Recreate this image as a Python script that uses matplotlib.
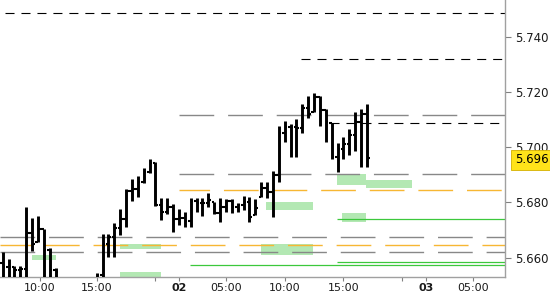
import matplotlib
matplotlib.use("Agg")
import matplotlib.pyplot as plt
import numpy as np

# 30-minute bars (index on x), prices
opens = [5.6580, 5.6567, 5.6567, 5.6555, 5.6559, 5.6690, 5.6657, 5.6704, 5.6628, 5.6555,
         5.6500, 5.6450, 5.6470, 5.6460, 5.6480, 5.6500,
         5.6490, 5.6537, 5.6650, 5.6675, 5.6707, 5.6740, 5.6843, 5.6848, 5.6875, 5.6911,
         5.6944, 5.6791, 5.6764, 5.6782, 5.6740, 5.6744, 5.6733, 5.6806, 5.6799, 5.6798,
         5.6803, 5.6763, 5.6785, 5.6805, 5.6784, 5.6791, 5.6803, 5.6755, 5.6821, 5.6851,
         5.6837, 5.6899, 5.7052, 5.7074, 5.7074, 5.7070, 5.7143, 5.7129, 5.7183, 5.7135,
         5.7087, 5.6966, 5.6993, 5.7010, 5.7044, 5.7092, 5.7119]
highs = [5.6622, 5.6595, 5.6570, 5.6570, 5.6784, 5.6745, 5.6752, 5.6705, 5.6636, 5.6564,
         5.6520, 5.6500, 5.6480, 5.6490, 5.6510, 5.6520,
         5.6545, 5.6686, 5.6686, 5.6725, 5.6775, 5.6849, 5.6884, 5.6896, 5.6924, 5.6956,
         5.6945, 5.6815, 5.6815, 5.6794, 5.6775, 5.6767, 5.6815, 5.6815, 5.6817, 5.6833,
         5.6803, 5.6815, 5.6812, 5.6812, 5.6799, 5.6823, 5.6819, 5.6812, 5.6873, 5.6873,
         5.6914, 5.7077, 5.7095, 5.7084, 5.7101, 5.7156, 5.7185, 5.7195, 5.7185, 5.7137,
         5.7087, 5.7014, 5.7036, 5.7066, 5.7126, 5.7137, 5.7155]
lows = [5.6500, 5.6500, 5.6500, 5.6500, 5.6500, 5.6624, 5.6657, 5.6500, 5.6500, 5.6500,
        5.6400, 5.6420, 5.6410, 5.6430, 5.6440, 5.6450,
        5.6480, 5.6520, 5.6601, 5.6601, 5.6682, 5.6710, 5.6806, 5.6819, 5.6869, 5.6908,
        5.6787, 5.6736, 5.6758, 5.6694, 5.6718, 5.6712, 5.6712, 5.6767, 5.6751, 5.6785,
        5.6757, 5.6728, 5.6767, 5.6761, 5.6767, 5.6773, 5.6730, 5.6755, 5.6821, 5.6815,
        5.6746, 5.6875, 5.7018, 5.6966, 5.6966, 5.7050, 5.7107, 5.7129, 5.7078, 5.7018,
        5.6957, 5.6909, 5.6957, 5.6972, 5.6986, 5.6929, 5.6929]
closes = [5.6567, 5.6567, 5.6555, 5.6559, 5.6690, 5.6650, 5.6704, 5.6628, 5.6555, 5.6548,
          5.6450, 5.6470, 5.6460, 5.6480, 5.6500, 5.6490,
          5.6537, 5.6650, 5.6675, 5.6707, 5.6740, 5.6843, 5.6848, 5.6875, 5.6911, 5.6944,
          5.6791, 5.6764, 5.6782, 5.6740, 5.6744, 5.6733, 5.6806, 5.6799, 5.6798, 5.6809,
          5.6763, 5.6785, 5.6805, 5.6784, 5.6791, 5.6803, 5.6748, 5.6780, 5.6851, 5.6837,
          5.6899, 5.7052, 5.7074, 5.7074, 5.7070, 5.7143, 5.7120, 5.7183, 5.7135, 5.7090,
          5.6966, 5.6993, 5.7010, 5.7044, 5.7092, 5.7119, 5.6960]

# horizontal levels: value and first bar index where the line starts
black_levels = [5.7485, 5.7321, 5.7089]
black_starts = [0.4, 50.8, 55.7]
gray_levels = [5.7118, 5.6903, 5.6675, 5.6621]
gray_starts = [30, 30, -0.5, -0.5]
orange_levels = [5.6845, 5.6645]
orange_starts = [30, -0.5]
green_levels = [5.6740, 5.6584, 5.6572]
green_starts = [56.9, 56.9, 31.9]

# shaded zones: (x from, x to, price low, price high)
zones = [(5.0, 9.1, 5.6592, 5.6610),
         (20.0, 27.0, 5.6632, 5.6649),
         (20.0, 27.0, 5.6500, 5.6549),
         (44.8, 52.8, 5.6773, 5.6803),
         (44.0, 52.8, 5.6610, 5.6649),
         (56.9, 61.8, 5.6863, 5.6903),
         (61.8, 69.6, 5.6853, 5.6881),
         (57.7, 61.8, 5.6730, 5.6763)]

tick_pos = [6.3, 16, 30, 38, 48, 58, 72, 80]
tick_labels = ["10:00", "15:00", "02", "05:00", "10:00", "15:00", "03", "05:00"]
minor_pos = [26, 68]
last_price = 5.696

plt.rcParams['lines.scale_dashes'] = False

fig = plt.figure(figsize=(5.5, 3), dpi=100)
ax = fig.add_axes([0, 23 / 300, 505 / 550, 1 - 23 / 300])

x_right = 85.5
x = np.arange(len(closes))

for lo, hi, y0, y1 in zones:
    ax.fill_between([lo, hi], y0, y1, color='#b3e8b3', lw=0, zorder=1)

ax.hlines(black_levels, black_starts, x_right, colors='black', lw=0.8,
          linestyles=(0, (6.5, 5)), zorder=2)
ax.hlines(gray_levels, gray_starts, x_right, colors='#888888', lw=1.0,
          linestyles=(0, (25, 10)), zorder=2)
ax.hlines(orange_levels, orange_starts, x_right, colors='#f7b733', lw=1.0,
          linestyles=(3, (25, 10)), zorder=2)
ax.hlines(green_levels, green_starts, x_right, colors='#3cc83c', lw=0.9, zorder=2)

# OHLC bars
ax.vlines(x, lows, highs, colors='black', lw=2.1, zorder=3)
ax.hlines(opens, x - 0.45, x, colors='black', lw=1.5, zorder=3)
ax.hlines(closes, x, x + 0.45, colors='black', lw=1.5, zorder=3)

ax.set_xlim(-0.46, x_right)
ax.set_ylim(5.6530, 5.7533)

for s in ['left', 'top']:
    ax.spines[s].set_visible(False)
for s in ['right', 'bottom']:
    ax.spines[s].set_color('#a0a0a0')
    ax.spines[s].set_linewidth(1.0)

ax.yaxis.tick_right()
ax.set_yticks([5.660, 5.680, 5.700, 5.720, 5.740])
ax.set_yticklabels(["5.660", "5.680", "5.700", "5.720", "5.740"])
ax.tick_params(axis='y', length=4, width=0.8, color='#808080', pad=3,
               labelsize=8.5, labelcolor='#1a1a1a')

ax.set_xticks(tick_pos)
ax.set_xticklabels(tick_labels)
ax.set_xticks(minor_pos, minor=True)
ax.tick_params(axis='x', which='both', length=3, width=0.8, color='#808080',
               pad=1, labelsize=8, labelcolor='#1a1a1a')
for lab in ax.get_xticklabels():
    if lab.get_text() in ("02", "03"):
        lab.set_fontweight('bold')

ax.annotate(f"{last_price:.3f}", xy=(1, last_price), xycoords=('axes fraction', 'data'),
            xytext=(7, -1), textcoords='offset points', va='center', ha='left',
            fontsize=8.5, color='black', annotation_clip=False,
            bbox=dict(boxstyle='square,pad=0.3', fc='#ffe31a', ec='#d4b000', lw=0.6))

fig.savefig("out.png", dpi=100, facecolor='white')
